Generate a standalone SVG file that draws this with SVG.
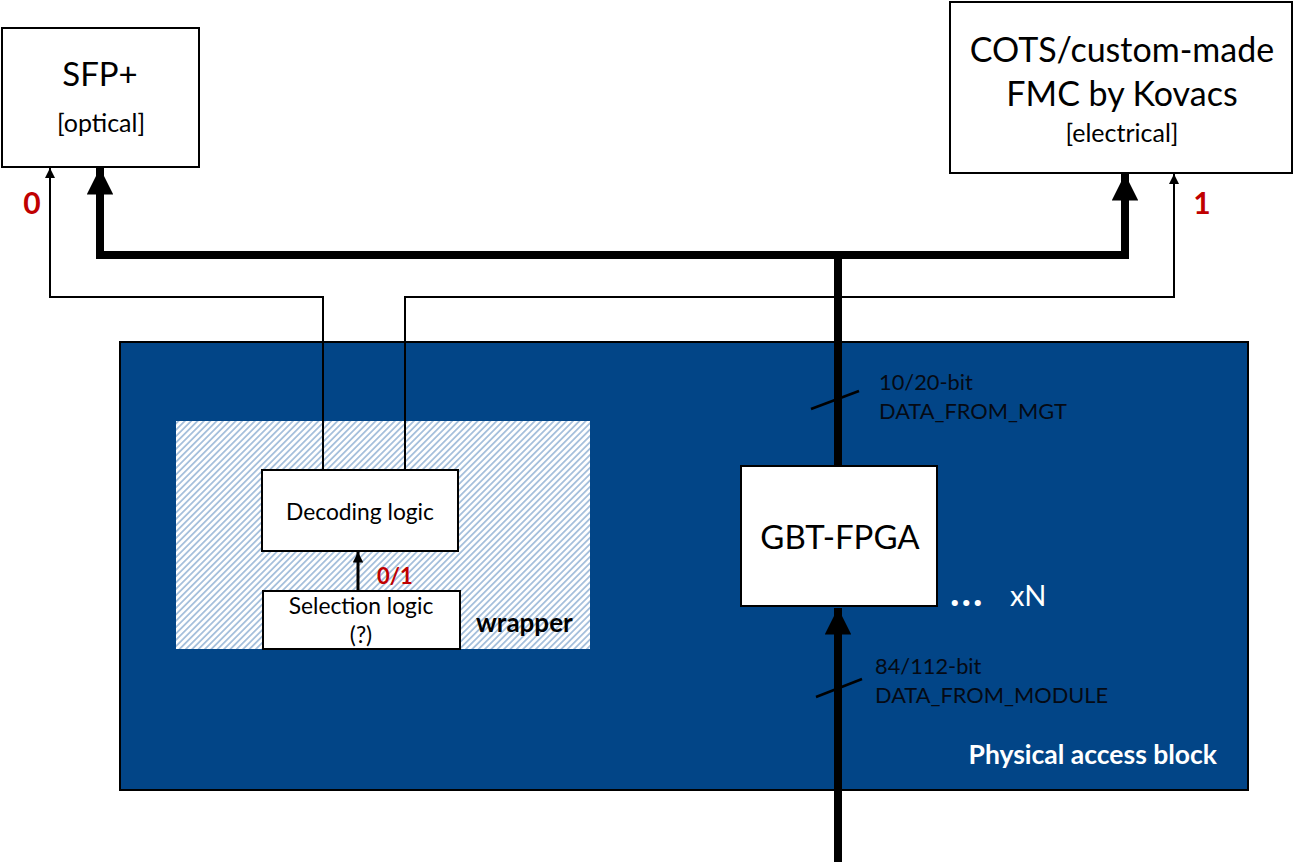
<svg xmlns="http://www.w3.org/2000/svg" width="1305" height="864" viewBox="0 0 1305 864">
<defs>
<style>
.box{fill:#fff;stroke:#000;stroke-width:2}
.t{font-family:Lato,"Liberation Sans",sans-serif;fill:#000}
.w{font-family:Lato,"Liberation Sans",sans-serif;fill:#fff}
.thick{fill:none;stroke:#000;stroke-width:8}
.thin{fill:none;stroke:#000;stroke-width:2}
.red{font-family:Lato,"Liberation Sans",sans-serif;font-weight:bold;fill:#C00000}
.dark{font-family:Lato,"Liberation Sans",sans-serif;fill:#050a14;font-size:21.8px}
</style>
<pattern id="hatch" width="4.5" height="4.5" patternUnits="userSpaceOnUse" patternTransform="rotate(45)">
<rect width="4.5" height="4.5" fill="#fff"/>
<rect width="1.8" height="4.5" fill="#A6C0DC"/>
</pattern>
<marker id="bigArrow" viewBox="0 0 10 10" refX="10" refY="5" markerWidth="3.6" markerHeight="3.3" markerUnits="strokeWidth" orient="auto">
<path d="M0,0 L10,5 L0,10 z" fill="#000"/>
</marker>
<marker id="smallArrow" viewBox="0 0 10 10" refX="10" refY="5" markerWidth="6" markerHeight="5" markerUnits="strokeWidth" orient="auto">
<path d="M0,0 L10,5 L0,10 z" fill="#000"/>
</marker>
<marker id="midArrow" viewBox="0 0 10 10" refX="10" refY="5" markerWidth="4" markerHeight="3.5" markerUnits="strokeWidth" orient="auto">
<path d="M0,0 L10,5 L0,10 z" fill="#000"/>
</marker>
</defs>
<rect width="1305" height="864" fill="#fff"/>

<g id="physical-access-block">
<rect x="120" y="342" width="1128" height="448" fill="#024587" stroke="#000" stroke-width="2"/>
<text class="w" x="1217" y="764" text-anchor="end" font-size="26.5" font-weight="bold">Physical access block</text>
</g>

<g id="wrapper">
<rect x="176" y="421" width="414" height="228" fill="url(#hatch)"/>
<text class="t" x="476" y="632" font-size="26" font-weight="bold">wrapper</text>
</g>

<g id="sfp">
<rect class="box" x="2" y="28" width="197" height="139"/>
<text class="t" x="100" y="86" text-anchor="middle" font-size="33">SFP+</text>
<text class="t" x="101" y="132" text-anchor="middle" font-size="25">[optical]</text>
</g>

<g id="cots">
<rect class="box" x="950" y="2" width="342" height="171"/>
<text class="t" x="1122" y="62" text-anchor="middle" font-size="34">COTS/custom-made</text>
<text class="t" x="1122" y="106" text-anchor="middle" font-size="34">FMC by Kovacs</text>
<text class="t" x="1122" y="142" text-anchor="middle" font-size="25">[electrical]</text>
</g>

<g id="decoding">
<rect class="box" x="262" y="470" width="196" height="81"/>
<text class="t" x="360" y="520" text-anchor="middle" font-size="22.8">Decoding logic</text>
</g>

<g id="selection">
<rect class="box" x="263" y="591" width="197" height="58"/>
<text class="t" x="361" y="614" text-anchor="middle" font-size="22.8">Selection logic</text>
<text class="t" x="361" y="643" text-anchor="middle" font-size="22.8">(?)</text>
</g>

<g id="gbt">
<rect class="box" x="741" y="466" width="196" height="140"/>
<text class="t" x="840" y="549" text-anchor="middle" font-size="33">GBT-FPGA</text>
<text class="w" x="950" y="606" font-size="40" font-weight="bold" letter-spacing="2">...</text>
<text class="w" x="1010" y="606" font-size="29">xN</text>
</g>

<g id="connectors">
<line class="thick" x1="838" y1="862" x2="838" y2="608" marker-end="url(#bigArrow)"/>
<polyline class="thick" points="838,466 838,255 100,255 100,168" marker-end="url(#bigArrow)"/>
<polyline class="thick" points="838,255 1125,255 1125,174" marker-end="url(#bigArrow)"/>
<polyline class="thin" points="323,470 323,297 50,297 50,168" marker-end="url(#smallArrow)"/>
<polyline class="thin" points="405,470 405,297 1174,297 1174,174" marker-end="url(#smallArrow)"/>
<line x1="358" y1="591" x2="358" y2="552" stroke="#000" stroke-width="3" marker-end="url(#midArrow)"/>
<line x1="811" y1="409" x2="859" y2="391" stroke="#000" stroke-width="2.5"/>
<line x1="816" y1="697" x2="862" y2="679" stroke="#000" stroke-width="2.5"/>
</g>

<g id="labels">
<text class="red" x="32" y="214" text-anchor="middle" font-size="30">0</text>
<text class="red" x="1202" y="214" text-anchor="middle" font-size="30">1</text>
<text class="red" x="377" y="584" font-size="22">0/1</text>
<text class="dark" x="879" y="390">10/20-bit</text>
<text class="dark" x="879" y="419">DATA_FROM_MGT</text>
<text class="dark" x="875" y="674">84/112-bit</text>
<text class="dark" x="875" y="703">DATA_FROM_MODULE</text>
</g>
</svg>
